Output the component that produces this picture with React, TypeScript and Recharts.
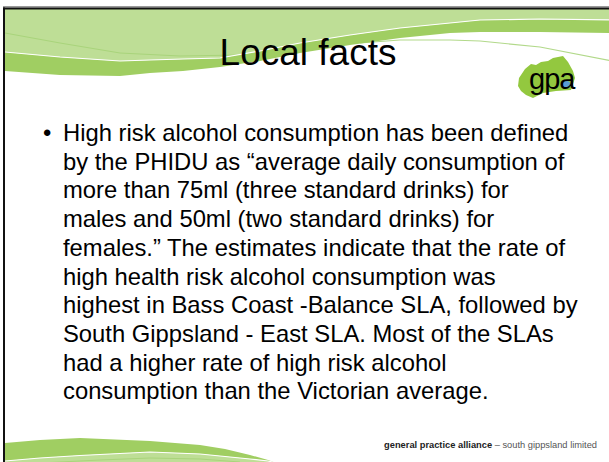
import { Surface, Layer, Curve, Polygon } from "recharts";

// slide text
const title = "Local facts";
const bulletLines = [
  "High risk alcohol consumption has been defined",
  "by the PHIDU as \u201Caverage daily consumption of",
  "more than 75ml (three standard drinks) for",
  "males and 50ml (two standard drinks) for",
  "females.\u201D The estimates indicate that the rate of",
  "high health risk alcohol consumption was",
  "highest in Bass Coast -Balance SLA, followed by",
  "South Gippsland - East SLA. Most of the SLAs",
  "had a higher rate of high risk alcohol",
  "consumption than the Victorian average.",
];
const footerLead = "general practice alliance";
const footerTail = " \u2013 south gippsland limited";
const logoWord = "gpa";

// decoration outlines for the template swooshes (not data)
const topX = [5, 60, 120, 150, 183, 220, 260, 300, 350, 400, 450, 480, 540, 612];
const topWhite = [52, 57, 61, 60, 59, 58, 51, 43, 35, 28, 23, 20, 19, 20];
const topDark = [71, 75, 76, 73, 71, 67, 61, 53, 45, 38, 33, 32, 32, 33];
const innerX = [5, 60, 120, 180, 240];
const innerY = [33, 43, 53, 56, 55];
const sideX = [360, 400, 450, 480, 540, 612];
const sideY = [43, 40, 40, 41, 47, 61];
const botX = [5, 40, 80, 150, 200, 225, 250, 268, 290];
const botDark = [443, 440, 438, 441, 445, 449, 455, 460, 468];
const botWhite = [461, 458, 455.5, 452, 454, 456.5, 459, 461, 466];
const botLineX = [40, 100, 150, 200, 240];
const botLineY = [463, 460, 458, 459, 462];
const mapOutline = [
  [519, 78], [525, 69], [531, 64], [536, 65], [541, 62], [548, 61], [553, 58],
  [558, 57], [563, 56], [568, 62], [573, 71], [575, 78], [571, 90], [556, 91],
  [543, 93], [533, 98], [526, 95], [521, 91], [518, 86],
];

const W = 609;
const H = 462;
const LIGHT = "#BEDE96";
const DARK = "#A0CE62";
const FONT = "'Liberation Sans', Arial, sans-serif";

const pts = (xs: number[], ys: number[]) => xs.map((x, i) => ({ x, y: ys[i] }));

export default function App() {
  return (
    <div style={{ position: "absolute", left: 0, top: 0, width: W, height: H, background: "#fff" }}>
      <Surface width={W} height={H} viewBox={{ x: 0, y: 0, width: W, height: H }}>
        <rect x={0} y={0} width={W} height={H} fill="#fff" />
        <Layer className="top-swoosh">
          <Curve type="monotone" points={pts(topX, topWhite)} baseLine={9} fill={LIGHT} stroke="none" />
          <Curve type="monotone" points={pts(innerX, innerY)} fill="none" stroke="#A9D47B" strokeWidth={1} />
          <Curve type="monotone" points={pts(sideX, sideY)} fill="none" stroke="#B2D98A" strokeWidth={1.2} />
          <Curve
            type="monotone"
            points={pts(topX, topDark)}
            baseLine={pts(topX, topWhite)}
            fill={DARK}
            stroke="none"
          />
          <Curve type="monotone" points={pts(topX, topWhite)} fill="none" stroke="#fff" strokeWidth={1.2} />
        </Layer>
        <Layer className="bottom-swoosh">
          <Curve type="monotone" points={pts(botX, botWhite)} baseLine={H} fill={LIGHT} stroke="none" />
          <Curve
            type="monotone"
            points={pts(botX, botDark)}
            baseLine={pts(botX, botWhite)}
            fill={DARK}
            stroke="none"
          />
          <Curve type="monotone" points={pts(botX, botWhite)} fill="none" stroke="#fff" strokeWidth={1.2} />
          <Curve type="monotone" points={pts(botLineX, botLineY)} fill="none" stroke="#A9D47B" strokeWidth={1} />
        </Layer>
        {/* slide frame */}
        <rect x={3} y={6} width={W} height={1.5} fill="#9a9a9a" />
        <rect x={3} y={7.5} width={W} height={2} fill="#111" />
        <rect x={3} y={7.5} width={2} height={H} fill="#111" />

        <text x={308} y={65} textAnchor="middle" fontFamily={FONT} fontSize={37} fill="#000">
          {title}
        </text>

        <Layer className="logo">
          <Polygon points={mapOutline.map(([x, y]) => ({ x, y }))} fill="#93C83F" stroke="none" />
          <ellipse cx={566.5} cy={84.5} rx={4} ry={3.6} fill="#5B9BD5" />
          <text x={529} y={89} fontFamily={FONT} fontSize={29} letterSpacing={-1} fill="#000">
            {logoWord}
          </text>
        </Layer>

        <text x={43} y={141} fontFamily={FONT} fontSize={23.8} fill="#000">
          {"\u2022"}
        </text>
        {bulletLines.map((line, i) => (
          <text key={i} x={63} y={141 + i * 28.7} fontFamily={FONT} fontSize={23.8} fill="#000">
            {line}
          </text>
        ))}

        <text x={597} y={448} textAnchor="end" fontFamily={FONT} fontSize={9.3} fill="#555">
          <tspan fontWeight="bold" fill="#222">
            {footerLead}
          </tspan>
          <tspan>{footerTail}</tspan>
        </text>
      </Surface>
    </div>
  );
}
